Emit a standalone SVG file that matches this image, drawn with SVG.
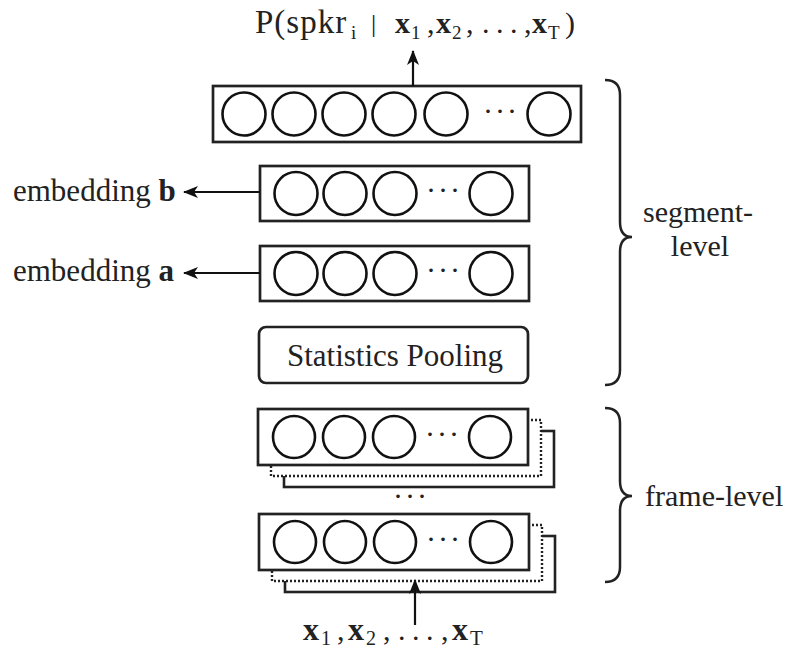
<svg xmlns="http://www.w3.org/2000/svg" width="787" height="650" viewBox="0 0 787 650">
<style>
.box{fill:#fff;stroke:#222;stroke-width:2.7}
.dot{fill:#fff;stroke:#222;stroke-width:2.4;stroke-dasharray:2 2}
.sh{fill:#fff;stroke:#222;stroke-width:2.6}
.neu{fill:none;stroke:#111;stroke-width:2.6}
.ln{fill:none;stroke:#111;stroke-width:2.2}
.br{fill:none;stroke:#222;stroke-width:2.5}
text{font-family:"Liberation Serif","Times New Roman",serif;fill:#222}
.t{font-size:30px}
.l{font-size:31px}
.b{font-weight:bold}
.s{font-size:19px}
.ell{font-size:30px;letter-spacing:2px}
</style>
<defs>
<marker id="ah" viewBox="0 0 15 12" refX="14" refY="6" markerWidth="15" markerHeight="12" markerUnits="userSpaceOnUse" orient="auto">
<path d="M0,0 L15,6 L0,12 L4,6 Z" fill="#111"/>
</marker>
</defs>

<g id="title">
<text class="t" x="255" y="33" style="font-size:33px;letter-spacing:1px">P(spkr</text>
<text class="s" x="351" y="39">i</text>
<text class="t" x="371" y="32" fill="#999" style="font-size:26px">|</text>
<text class="t b" x="395" y="33">x</text>
<text class="s" x="411" y="39">1</text>
<text class="t" x="427" y="33">,</text>
<text class="t b" x="436" y="33">x</text>
<text class="s" x="452" y="39">2</text>
<text class="t" x="466" y="33">,</text>
<text class="t" x="482" y="33">.</text>
<text class="t" x="496" y="33">.</text>
<text class="t" x="510" y="33">.</text>
<text class="t" x="524" y="33">,</text>
<text class="t b" x="532" y="33">x</text>
<text class="s" x="548" y="39">T</text>
<text class="t" x="565" y="33">)</text>
</g>

<g id="output-layer">
<rect class="box" x="213" y="86" width="368" height="56"/>
<circle class="neu" cx="244" cy="114" r="21.5"/>
<circle class="neu" cx="294" cy="114" r="21.5"/>
<circle class="neu" cx="344" cy="114" r="21.5"/>
<circle class="neu" cx="394" cy="114" r="21.5"/>
<circle class="neu" cx="446" cy="114" r="21.5"/>
<text class="ell" x="501" y="121" text-anchor="middle">···</text>
<circle class="neu" cx="549" cy="114" r="21.5"/>
</g>

<g id="segment-b">
<rect class="box" x="260" y="166" width="269" height="55"/>
<circle class="neu" cx="296" cy="193.5" r="21.5"/>
<circle class="neu" cx="345" cy="193.5" r="21.5"/>
<circle class="neu" cx="395" cy="193.5" r="21.5"/>
<text class="ell" x="444" y="200" text-anchor="middle">···</text>
<circle class="neu" cx="491" cy="193.5" r="21.5"/>
</g>

<g id="segment-a">
<rect class="box" x="260" y="246" width="269" height="55"/>
<circle class="neu" cx="296" cy="273.5" r="21.5"/>
<circle class="neu" cx="345" cy="273.5" r="21.5"/>
<circle class="neu" cx="395" cy="273.5" r="21.5"/>
<text class="ell" x="444" y="280" text-anchor="middle">···</text>
<circle class="neu" cx="491" cy="273.5" r="21.5"/>
</g>

<g id="label-b"><text class="l" x="13" y="201">embedding <tspan class="b">b</tspan></text></g>
<g id="label-a"><text class="l" x="13" y="281">embedding <tspan class="b">a</tspan></text></g>

<g id="stats-pooling">
<rect class="box" x="259" y="327" width="269" height="56" rx="7"/>
<text class="l" x="395" y="366" text-anchor="middle">Statistics Pooling</text>
</g>

<g id="frame-1">
<rect class="sh" x="284" y="431" width="270" height="56"/>
<rect class="dot" x="271" y="420" width="270" height="56"/>
<rect class="box" x="258" y="409" width="270" height="56"/>
<circle class="neu" cx="294" cy="437" r="21"/>
<circle class="neu" cx="344" cy="437" r="21"/>
<circle class="neu" cx="394" cy="437" r="21"/>
<text class="ell" x="443" y="444" text-anchor="middle">···</text>
<circle class="neu" cx="490" cy="437" r="21"/>
</g>

<g id="frame-dots"><text class="ell" x="411" y="506" text-anchor="middle">···</text></g>

<g id="frame-2">
<rect class="sh" x="285" y="536" width="270" height="56"/>
<rect class="dot" x="272" y="525" width="270" height="56"/>
<rect class="box" x="259" y="514" width="270" height="56"/>
<circle class="neu" cx="295" cy="542" r="21"/>
<circle class="neu" cx="345" cy="542" r="21"/>
<circle class="neu" cx="395" cy="542" r="21"/>
<text class="ell" x="444" y="549" text-anchor="middle">···</text>
<circle class="neu" cx="491" cy="542" r="21"/>
</g>

<g id="input">
<text class="t b" x="303" y="640" style="font-size:32px">x</text>
<text class="s" x="321" y="645" style="font-size:20px">1</text>
<text class="t" x="337" y="640">,</text>
<text class="t b" x="348" y="640" style="font-size:32px">x</text>
<text class="s" x="366" y="645" style="font-size:20px">2</text>
<text class="t" x="383" y="640">,</text>
<text class="t" x="398" y="640">.</text>
<text class="t" x="412" y="640">.</text>
<text class="t" x="426" y="640">.</text>
<text class="t" x="441" y="640">,</text>
<text class="t b" x="452" y="640" style="font-size:32px">x</text>
<text class="s" x="470" y="645" style="font-size:21px">T</text>
</g>

<g id="segment-brace">
<path class="br" d="M605,80 Q620,80 620,95 L620,222 Q620,237 632,237 Q620,237 620,252 L620,370 Q620,385 605,385"/>
<text class="t" x="698" y="222" text-anchor="middle">segment-</text>
<text class="t" x="700" y="256" text-anchor="middle">level</text>
</g>

<g id="frame-brace">
<path class="br" d="M605,408 Q620,408 620,423 L620,481 Q620,496 632,496 Q620,496 620,511 L620,567 Q620,582 605,582"/>
<text class="t" x="645" y="506">frame-level</text>
</g>

<g id="connectors">
<line class="ln" x1="413" y1="86" x2="413" y2="51" marker-end="url(#ah)"/>
<line class="ln" x1="260" y1="192" x2="184" y2="192" marker-end="url(#ah)"/>
<line class="ln" x1="260" y1="273" x2="184" y2="273" marker-end="url(#ah)"/>
<line class="ln" x1="415" y1="625" x2="415" y2="580" marker-end="url(#ah)"/>
</g>
</svg>
